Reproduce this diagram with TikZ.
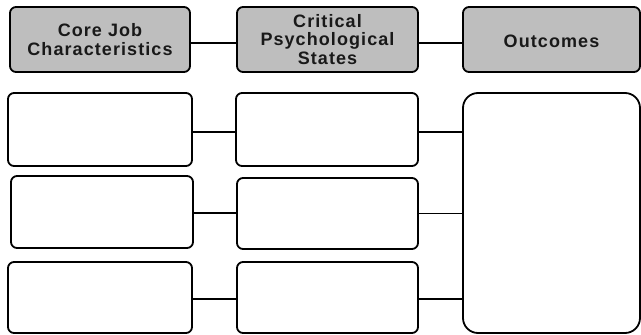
\documentclass[tikz,border=0pt]{standalone}
\usepackage{fontspec}
\newfontfamily\hfont{Liberation Sans}[LetterSpace=6]
\definecolor{hdrgray}{RGB}{190,190,190}
\definecolor{txtdark}{RGB}{25,25,25}
\begin{document}
\begin{tikzpicture}[x=1pt,y=1pt,
  hdr/.style={draw=black,line width=1.8pt,fill=hdrgray,rounded corners=6pt,
    minimum height=65pt,align=center,inner sep=0pt,outer sep=0pt,
    font=\hfont\bfseries\fontsize{18}{18.5}\selectfont,text=txtdark},
  cell/.style={draw=black,line width=1.8pt,fill=white,rounded corners=6pt,
    inner sep=0pt,outer sep=0pt},
  thin/.style={line width=1.1pt},
  thick/.style={line width=2pt}]
\useasboundingbox (0,0) rectangle (641,-335);
% header
\node[hdr,minimum width=180pt] (h1) at (100,-39.5) {Core Job\\Characteristics};
\node[hdr,minimum width=181pt] (h2) at (327.5,-39.5) {Critical\\Psychological\\States};
\node[hdr,minimum width=177pt,text depth=0pt] (h3) at (551.5,-39.5) {\raisebox{-3pt}{Outcomes}};
\draw[thick] ([yshift=-3.5pt]h1.east) -- ([yshift=-3.5pt]h2.west);
\draw[thick] ([yshift=-3.5pt]h2.east) -- ([yshift=-3.5pt]h3.west);
% rows
\node[cell,minimum width=184pt,minimum height=73pt] (a1) at (100,-129.5) {};
\node[cell,minimum width=182pt,minimum height=73pt] (b1) at (327,-129.5) {};
\node[cell,minimum width=182pt,minimum height=72pt] (a2) at (102,-212) {};
\node[cell,minimum width=181pt,minimum height=71pt] (b2) at (327.5,-213.5) {};
\node[cell,minimum width=184pt,minimum height=71pt] (a3) at (100,-297.5) {};
\node[cell,minimum width=181pt,minimum height=71pt] (b3) at (327.5,-297.5) {};
\node[cell,rounded corners=15pt,minimum width=177pt,minimum height=240pt] (out) at (551.5,-213) {};
% connectors
\draw[thin] ([yshift=-2.5pt]a1.east) -- ([yshift=-2.5pt]a1.east -| b1.west);
\draw[thin] ([yshift=-2.5pt]b1.east) -- ([yshift=-2.5pt]b1.east -| out.west);
\draw[thin] ([yshift=-1pt]a2.east) -- ([yshift=-1pt]a2.east -| b2.west);
\draw[thin] (b2.east) -- (b2.east -| out.west);
\draw[thick] ([yshift=-1.5pt]a3.east) -- ([yshift=-1.5pt]b3.west);
\draw[thick] ([yshift=-1.5pt]b3.east) -- ([yshift=-1.5pt]b3.east -| out.west);
\end{tikzpicture}
\end{document}
